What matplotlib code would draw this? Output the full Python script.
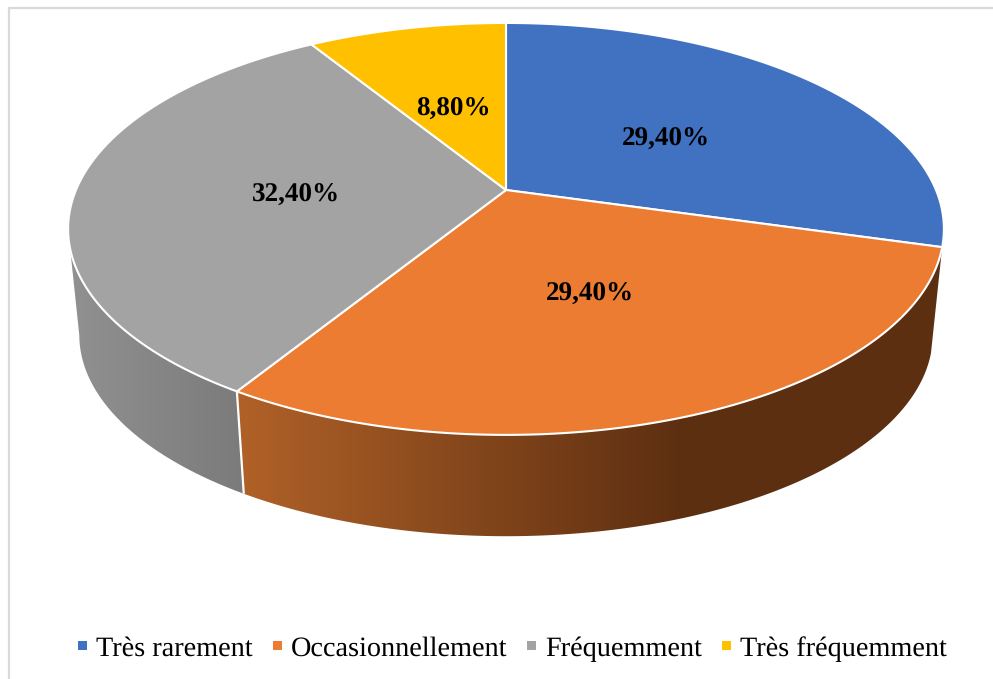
import numpy as np
import matplotlib
matplotlib.use('Agg')
import matplotlib.pyplot as plt
from matplotlib.patches import Polygon, Patch

plt.rcParams['font.family'] = ['Liberation Serif', 'DejaVu Serif']
plt.rcParams['text.hinting'] = 'no_hinting'

# chart data
categories = ['Très rarement', 'Occasionnellement', 'Fréquemment', 'Très fréquemment']
values = [29.4, 29.4, 32.4, 8.8]
value_labels = ['29,40%', '29,40%', '32,40%', '8,80%']
colors = ['#4171C1', '#EB7C31', '#A3A3A3', '#FFC000']

# perspective of the disc, in pixels
cx, cy = 506, 190
a, b, k = 430, 198.6, 0.189
# bottom face of the disc
a2, b2, k2, cy2 = 419, 194, 0.189, 297


def project(theta, r=1.0, a=a, b=b, k=k, cy=cy):
    # theta in degrees, clockwise from the top
    t = np.radians(theta)
    x = r * np.sin(t)
    y = r * np.cos(t)
    w = 1 + k * y
    return np.column_stack([cx + a * x / w, cy - b * y / w])


def gradient(ax, poly, x0, x1, c0, c1, stop):
    # horizontal gradient clipped to the side wall polygon
    xs = np.linspace(x0, x1, 400)
    f = np.clip((xs - x0) / (stop - x0), 0, 1)
    img = np.zeros((1, len(xs), 3))
    for i in range(3):
        img[0, :, i] = (c0[i] + (c1[i] - c0[i]) * f) / 255
    patch = Polygon(poly, closed=True, transform=ax.transData, fc='none', ec='none')
    ax.add_patch(patch)
    im = ax.imshow(img, extent=[x0, x1, 679, 0], aspect='auto', zorder=1, interpolation='bilinear')
    im.set_clip_path(patch)


fig = plt.figure(figsize=(9.93, 6.79), dpi=100)
ax = fig.add_axes([0, 0, 1, 1])
ax.axis('off')

edges = np.concatenate([[0], np.cumsum(values)]) * 360 / sum(values)

# frame, open on the right and at the bottom
ax.plot([8.5, 8.5, 993], [679, 7.5, 7.5], color='#D9D9D9', lw=1.6, zorder=0)

# side walls, only the two front slices show
t_orange = np.linspace(edges[1], edges[2], 200)
orange_wall = np.vstack([project(t_orange), project(t_orange[::-1], a=a2, b=b2, k=k2, cy=cy2)])
gradient(ax, orange_wall, 230, 950, (178, 98, 40), (93, 47, 17), 680)

t_grey = np.linspace(edges[2], 259, 100)
grey_wall = np.vstack([project(t_grey), project(t_grey[::-1], a=a2, b=b2, k=k2, cy=cy2)])
gradient(ax, grey_wall, 60, 250, (146, 146, 146), (122, 122, 122), 250)

# white seam between the two walls
seam = np.vstack([project(edges[2]), project(edges[2], a=a2, b=b2, k=k2, cy=cy2)])
ax.plot(seam[:, 0], seam[:, 1], color='white', lw=1.6, zorder=2, solid_capstyle='butt')

# top face
for i, c in enumerate(colors):
    t = np.linspace(edges[i], edges[i + 1], 200)
    pts = np.vstack([[cx, cy], project(t)])
    ax.add_patch(Polygon(pts, closed=True, fc=c, ec='white', lw=1.5, zorder=3, joinstyle='round'))

# value labels
for i, lab in enumerate(value_labels):
    mid = (edges[i] + edges[i + 1]) / 2
    p = project(mid, r=0.49)[0]
    ax.text(p[0] + 0.5, p[1] + 5, lab, fontsize=19.5, fontweight='bold', color='black',
            ha='center', va='center', zorder=5)

handles = [Patch(fc=c, ec='none') for c in colors]
ax.legend(handles, categories, loc='center', bbox_to_anchor=(512.5, 649), bbox_transform=ax.transData,
          ncol=4, frameon=False, fontsize=20.3, handlelength=0.32, handleheight=0.115,
          handletextpad=0.32, columnspacing=0.71, borderpad=0, labelcolor='black')

ax.set_xlim(0, 993)
ax.set_ylim(679, 0)
fig.savefig('out.png', dpi=100, facecolor='white')
